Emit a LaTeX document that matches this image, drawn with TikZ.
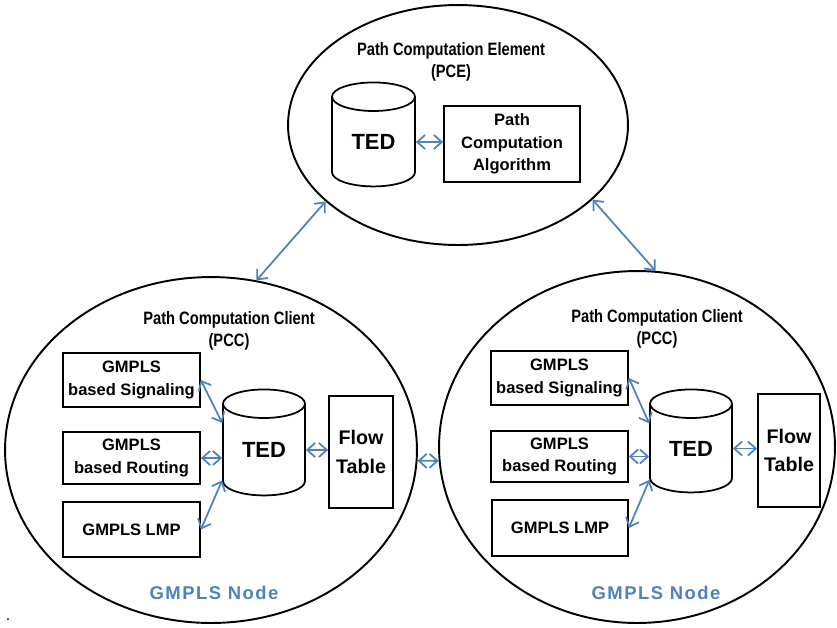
\documentclass[tikz,border=0pt]{standalone}
\usepackage{fontspec}
\setmainfont{Liberation Sans}
\newfontfamily\narrowfont[FakeStretch=0.82]{Liberation Sans}
\newfontfamily\spacedfont[LetterSpace=8]{Liberation Sans}
\usepackage{xcolor}
\usepackage{tikz}
\usetikzlibrary{shapes.geometric, arrows.meta, calc}
\definecolor{linkblue}{RGB}{79,129,189}
\tikzstyle{arrow} = [line width=1pt, draw=linkblue, {Straight Barb[length=4.5pt,width=8pt]}-{Straight Barb[length=4.5pt,width=8pt]}]
\tikzstyle{module} = [draw, line width=1pt, inner sep=0pt, align=center, font=\fontsize{9.4}{12.9}\selectfont\bfseries]
\tikzstyle{db} = [draw, line width=1pt, cylinder, shape border rotate=90, aspect=0.65, inner sep=0pt, font=\fontsize{12.5}{12}\selectfont\bfseries]
\tikzstyle{nodering} = [draw, line width=1.1pt, ellipse, inner sep=0pt]
\tikzstyle{title} = [align=center, font=\narrowfont\fontsize{10.2}{12.3}\selectfont\bfseries]
\tikzstyle{nodelabel} = [text=linkblue, font=\spacedfont\fontsize{10.5}{12}\selectfont\bfseries]

\begin{document}
\begin{tikzpicture}[x=0.02cm, y=-0.02cm]
\useasboundingbox (0,0) rectangle (837,627);

% Path Computation Element
\node[nodering, minimum width=6.8cm, minimum height=4.8cm] (pce) at (458,125) {};
\node[title] (pcetitle) at (451,62) {Path Computation Element\\(PCE)};
\node[db, minimum width=1.66cm, minimum height=2.08cm] (pted) at (373.5,142) {TED};
\node[module, minimum width=2.72cm, minimum height=1.52cm] (pca) at (512,144) {Path\\Computation\\Algorithm};
\draw[arrow] (pted.east) -- (pted.east -| pca.west);

% Left client
\node[nodering, minimum width=8.24cm, minimum height=6.92cm] (lpcc) at (211,450) {};
\node[title] (ltitle) at (229,331) {Path Computation Client\\(PCC)};
\node[module, minimum width=2.74cm, minimum height=1.08cm] (lsig) at (131.5,380) {GMPLS\\based Signaling};
\node[module, minimum width=2.74cm, minimum height=1.04cm] (lrout) at (131.5,458) {GMPLS\\based Routing};
\node[module, minimum width=2.74cm, minimum height=1.1cm] (llmp) at (131.5,529.5) {GMPLS LMP};
\node[db, minimum width=1.64cm, minimum height=2.12cm] (lted) at (264,450) {TED};
\node[module, minimum width=1.28cm, minimum height=2.24cm, font=\fontsize{11.2}{16}\selectfont\bfseries] (lflow) at (361,452) {Flow\\Table};
\node[nodelabel] (lname) at (214,593) {GMPLS Node};
\draw[arrow] (lsig.east) -- (lted.147);
\draw[arrow] (lrout.east) -- (lrout.east -| lted.west);
\draw[arrow] (llmp.east) -- (lted.216);
\draw[arrow] (lted.east) -- (lted.east -| lflow.west);

% Right client
\node[nodering, minimum width=7.92cm, minimum height=7.04cm] (rpcc) at (637,447) {};
\node[title] (rtitle) at (657,329) {Path Computation Client\\(PCC)};
\node[module, minimum width=2.74cm, minimum height=1.08cm] (rsig) at (559.5,378) {GMPLS\\based Signaling};
\node[module, minimum width=2.74cm, minimum height=1.02cm] (rrout) at (559.5,456.5) {GMPLS\\based Routing};
\node[module, minimum width=2.72cm, minimum height=1.12cm] (rlmp) at (560,528) {GMPLS LMP};
\node[db, minimum width=1.64cm, minimum height=2.06cm] (rted) at (691,448.5) {TED};
\node[module, minimum width=1.24cm, minimum height=2.26cm, font=\fontsize{11.2}{16}\selectfont\bfseries] (rflow) at (789,450.5) {Flow\\Table};
\node[nodelabel] (rname) at (656,593) {GMPLS Node};
\draw[arrow] (rsig.east) -- (rted.149);
\draw[arrow] (rrout.east) -- (rrout.east -| rted.west);
\draw[arrow] (rlmp.east) -- (rted.217);
\draw[arrow] (rted.east) -- (rted.east -| rflow.west);

% Links between elements
\draw[arrow] (lpcc.75) -- (pce.210);
\draw[arrow] (rpcc.84) -- (pce.-29);
\draw[arrow] (lpcc.-3) -- (rpcc.184);

% stray mark
\node[font=\small] (dot) at (8,620) {.};
\end{tikzpicture}
\end{document}
